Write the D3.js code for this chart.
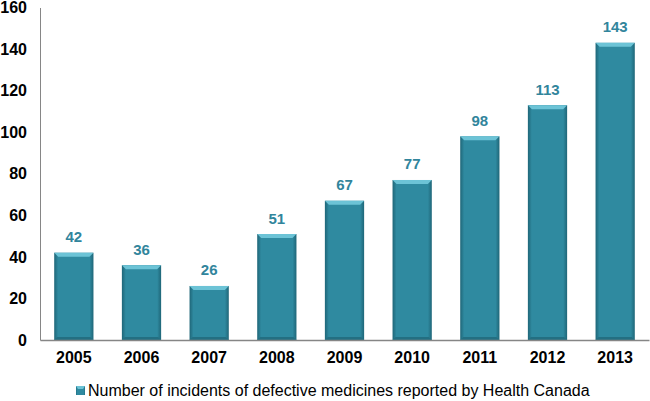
<!DOCTYPE html>
<html>
<head>
<meta charset="utf-8">
<script src="https://cdn.jsdelivr.net/npm/d3@7"></script>
<style>
  body { margin: 0; background: #fff; }
  text { font-family: Arial, "Liberation Sans", sans-serif; }
</style>
</head>
<body>
<div id="wrapper"></div>
<script>
// data
const years = ["2005", "2006", "2007", "2008", "2009", "2010", "2011", "2012", "2013"];
const incidents = [42, 36, 26, 51, 67, 77, 98, 113, 143];
const yTicks = [0, 20, 40, 60, 80, 100, 120, 140, 160];
const seriesName = "Number of incidents of defective medicines reported by Health Canada";

const width = 650;
const height = 401;
const margin = { top: 7.5, right: 1, bottom: 61, left: 40 };

const svg = d3.select("#wrapper")
  .append("svg")
  .attr("width", width)
  .attr("height", height);

// gradients for the bevelled bars
const defs = svg.append("defs");
const side = defs.append("linearGradient").attr("id", "side")
  .attr("x1", 0).attr("x2", 1).attr("y1", 0).attr("y2", 0);
side.append("stop").attr("offset", "0%").attr("stop-color", "#1f6678");
side.append("stop").attr("offset", "10%").attr("stop-color", "#2f8aa0");
side.append("stop").attr("offset", "90%").attr("stop-color", "#2f8aa0");
side.append("stop").attr("offset", "100%").attr("stop-color", "#1f6678");

const x = d3.scaleBand()
  .domain(years)
  .range([margin.left, width - margin.right])
  .paddingInner(0.42)
  .paddingOuter(0.21);

const y = d3.scaleLinear()
  .domain([0, 160])
  .range([height - margin.bottom, margin.top]);

// bars
const bars = svg.selectAll(".bar")
  .data(years)
  .enter()
  .append("g")
  .attr("class", "bar");

bars.append("rect")
  .attr("x", d => x(d))
  .attr("y", (d, i) => y(incidents[i]))
  .attr("width", x.bandwidth())
  .attr("height", (d, i) => y(0) - y(incidents[i]))
  .attr("fill", "url(#side)");

// light top bevel
bars.append("path")
  .attr("d", (d, i) => {
    const x0 = x(d), x1 = x(d) + x.bandwidth(), t = y(incidents[i]), b = 4;
    return `M${x0},${t}L${x1},${t}L${x1 - b},${t + b}L${x0 + b},${t + b}Z`;
  })
  .attr("fill", "#6cc3d6");

// bottom shade
bars.append("path")
  .attr("d", d => {
    const x0 = x(d), x1 = x(d) + x.bandwidth(), bt = y(0), b = 3;
    return `M${x0},${bt}L${x1},${bt}L${x1 - b},${bt - b}L${x0 + b},${bt - b}Z`;
  })
  .attr("fill", "#236f82");

// value labels
svg.selectAll(".value")
  .data(years)
  .enter()
  .append("text")
  .attr("class", "value")
  .attr("x", d => x(d) + x.bandwidth() / 2)
  .attr("y", (d, i) => y(incidents[i]) - 10.5)
  .attr("text-anchor", "middle")
  .attr("font-size", 15)
  .attr("font-weight", "bold")
  .attr("fill", "#31859c")
  .text((d, i) => incidents[i]);

// axes
const yAxis = svg.append("g")
  .attr("transform", `translate(${margin.left},0)`)
  .call(d3.axisLeft(y).tickValues(yTicks).tickSize(0).tickPadding(13));
yAxis.select(".domain").attr("stroke", "#868686");
yAxis.selectAll("text")
  .attr("font-size", 16)
  .attr("font-weight", "bold")
  .attr("fill", "#000")
  .attr("font-family", "Arial, 'Liberation Sans', sans-serif");

const xAxis = svg.append("g")
  .attr("transform", `translate(0,${y(0)})`)
  .call(d3.axisBottom(x).tickSize(0).tickPadding(12));
xAxis.select(".domain").attr("stroke", "#868686").attr("stroke-width", 1.5);
xAxis.selectAll("text")
  .attr("font-size", 16)
  .attr("font-weight", "bold")
  .attr("fill", "#000")
  .attr("font-family", "Arial, 'Liberation Sans', sans-serif");

// legend
const legend = svg.append("g").attr("transform", "translate(76,386)");
legend.append("rect")
  .attr("width", 9)
  .attr("height", 9)
  .attr("fill", "url(#side)");
legend.append("path")
  .attr("d", "M0,0L9,0L7,3L2,3Z")
  .attr("fill", "#6cc3d6");
legend.append("text")
  .attr("x", 12)
  .attr("y", 10)
  .attr("font-size", 16)
  .attr("fill", "#000")
  .text(seriesName);
</script>
</body>
</html>
